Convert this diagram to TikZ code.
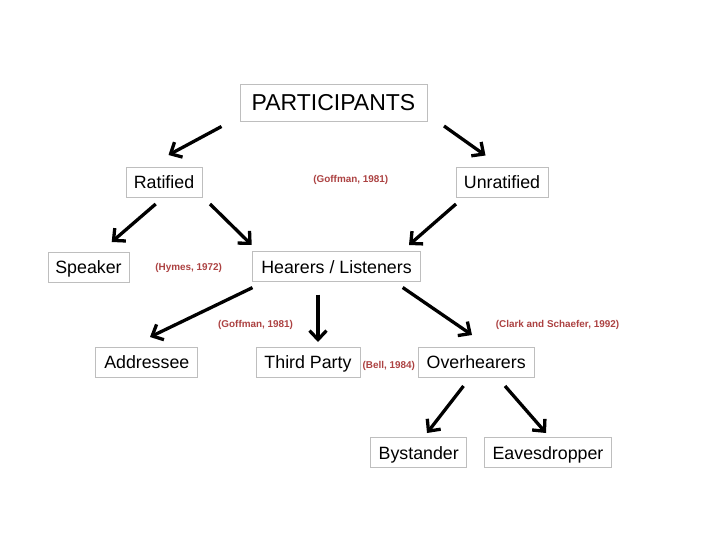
\documentclass[tikz,border=0pt]{standalone}
\usepackage{fontspec}
\setmainfont{Liberation Sans}
\usetikzlibrary{arrows.meta}
\definecolor{refred}{RGB}{172,66,66}
\definecolor{boxgray}{RGB}{190,190,190}
\begin{document}
\begin{tikzpicture}[x=1pt,y=-1pt,
  box/.style={draw=boxgray,line width=0.9pt,inner sep=0pt,font=\fontsize{17.8}{20}\selectfont,text=black,anchor=center,text height=12.7pt,text depth=0pt},
  cite/.style={text=refred,font=\fontsize{9.9}{11}\selectfont\bfseries,inner sep=0pt,text height=7.1pt,text depth=0pt},
  arr/.style={line width=3.3pt,black,-{Straight Barb[length=9pt,width=17pt,line width=3.3pt]}}]
\useasboundingbox (0,0) rectangle (720,540);
% boxes
\node[box,minimum width=187pt,minimum height=37pt,font=\fontsize{23}{26}\selectfont,text height=16.5pt] (part) at (333.5,102.5) {PARTICIPANTS};
\node[box,minimum width=76pt,minimum height=29.5pt] (rat) at (164,182.5) {Ratified};
\node[box,minimum width=92pt,minimum height=30pt] (unrat) at (502,182.3) {Unratified};
\node[box,minimum width=81pt,minimum height=29.5pt] (spk) at (88.5,267.5) {Speaker};
\node[box,minimum width=168.5pt,minimum height=30pt] (hear) at (336.5,266.7) {Hearers / Listeners};
\node[box,minimum width=102pt,minimum height=30pt] (addr) at (146.8,362.3) {Addressee};
\node[box,minimum width=104pt,minimum height=29.5pt] (third) at (308,362.2) {Third Party};
\node[box,minimum width=115.7pt,minimum height=29.5pt] (over) at (476.2,362.2) {Overhearers};
\node[box,minimum width=96pt,minimum height=30pt] (bys) at (418.7,452.7) {Bystander};
\node[box,minimum width=127.4pt,minimum height=30pt] (eav) at (548,452.7) {Eavesdropper};
% citations
\node[cite] (c1) at (350.8,179) {(Goffman, 1981)};
\node[cite] (c2) at (188.7,266.7) {(Hymes, 1972)};
\node[cite] (c3) at (255.6,323.5) {(Goffman, 1981)};
\node[cite] (c4) at (388.8,365) {(Bell, 1984)};
\node[cite] (c5) at (557.5,323.5) {(Clark and Schaefer, 1992)};
% arrow end points
\coordinate (a1s) at (221.5,126.5); \coordinate (a1e) at (168.5,155);
\coordinate (a2s) at (444,126);     \coordinate (a2e) at (485.5,155.5);
\coordinate (a3s) at (155.7,204);   \coordinate (a3e) at (111.7,242);
\coordinate (a4s) at (210,204);     \coordinate (a4e) at (251.7,245);
\coordinate (a5s) at (456,204);     \coordinate (a5e) at (409,245);
\coordinate (a6s) at (252.5,287.6); \coordinate (a6e) at (150,337);
\coordinate (a7s) at (318,294.5);   \coordinate (a7e) at (318,342);
\coordinate (a8s) at (402.7,287.5); \coordinate (a8e) at (472,335);
\coordinate (a9s) at (463.5,386);   \coordinate (a9e) at (427,433);
\coordinate (a10s) at (505,386);    \coordinate (a10e) at (546,433);
\foreach \i in {1,...,10} {\draw[arr] (a\i s) -- (a\i e);}
\end{tikzpicture}
\end{document}
